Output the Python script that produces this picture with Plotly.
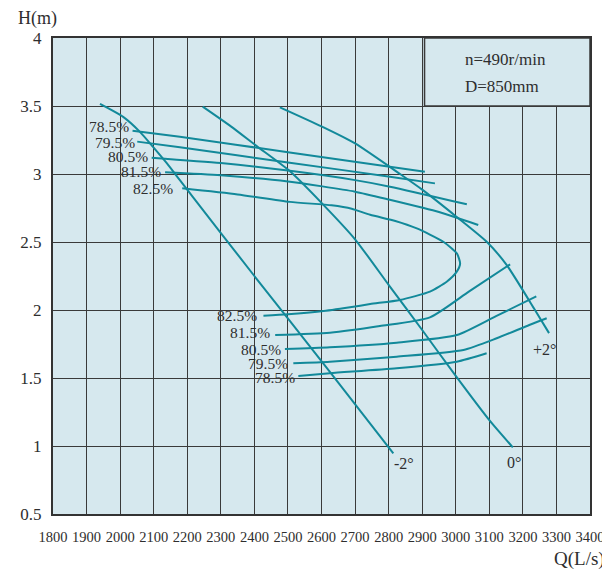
import plotly.graph_objects as go

# ---------------- data ----------------
# blade-angle head curves
Q_m2 = [1940, 2009, 2059, 2098, 2139, 2178, 2217, 2400, 2625, 2814]
H_m2 = [3.515, 3.42, 3.31, 3.20, 3.08, 2.955, 2.83, 2.25, 1.545, 0.945]

Q_0 = [2246, 2330, 2407, 2506, 2605, 2700, 2800, 2900, 3000, 3100, 3170]
H_0 = [3.495, 3.35, 3.205, 3.02, 2.775, 2.52, 2.185, 1.853, 1.515, 1.19, 0.99]

Q_p2 = [2476, 2600, 2700, 2834, 2900, 3000, 3093, 3152, 3236, 3278]
H_p2 = [3.49, 3.35, 3.225, 3.0, 2.885, 2.69, 2.5, 2.33, 2.0, 1.83]

# efficiency iso-lines, upper branches
Q_785u = [2037, 2178, 2500, 2908]
H_785u = [3.318, 3.274, 3.16, 3.017]
Q_795u = [2051, 2178, 2500, 2804, 2938]
H_795u = [3.238, 3.196, 3.085, 2.98, 2.931]
Q_805u = [2094, 2300, 2500, 2700, 2804, 3033]
H_805u = [3.12, 3.08, 3.025, 2.955, 2.907, 2.777]
Q_815u = [2134, 2300, 2500, 2700, 2804, 2950, 3067]
H_815u = [3.012, 2.99, 2.945, 2.87, 2.81, 2.72, 2.625]

# 82.5% loop
Q_825 = [2185, 2350, 2506, 2630, 2690, 2745, 2820, 2884, 2963, 3003, 3013, 3003,
         2973, 2923, 2834, 2745, 2685, 2600, 2500, 2427]
H_825 = [2.895, 2.85, 2.795, 2.77, 2.745, 2.70, 2.655, 2.60, 2.502, 2.417, 2.343, 2.282,
         2.208, 2.135, 2.074, 2.044, 2.02, 1.99, 1.968, 1.958]

# efficiency iso-lines, lower branches
Q_815l = [2462, 2625, 2774, 2923, 3040, 3162]
H_815l = [1.816, 1.833, 1.882, 1.946, 2.137, 2.336]
Q_805l = [2491, 2625, 2824, 3003, 3120, 3240]
H_805l = [1.713, 1.726, 1.76, 1.816, 1.955, 2.10]
Q_795l = [2516, 2625, 2824, 3023, 3122, 3219, 3271]
H_795l = [1.608, 1.62, 1.657, 1.706, 1.792, 1.89, 1.939]
Q_785l = [2531, 2625, 2824, 3003, 3092]
H_785l = [1.515, 1.535, 1.571, 1.62, 1.682]

# labels
eff_labels = ["78.5%", "79.5%", "80.5%", "81.5%", "82.5%"]
eff_up_Q = [2032, 2050, 2089, 2128, 2164]
eff_up_H = [3.346, 3.235, 3.132, 3.022, 2.897]
eff_lo_labels = ["82.5%", "81.5%", "80.5%", "79.5%", "78.5%"]
eff_lo_Q = [2414, 2453, 2485, 2506, 2527]
eff_lo_H = [1.963, 1.831, 1.713, 1.61, 1.507]

angle_labels = ["-2°", "0°", "+2°"]
angle_Q = [2846, 3174, 3263]
angle_H = [0.868, 0.882, 1.713]

x_ticks = list(range(1800, 3401, 100))
y_ticks = [0.5, 1, 1.5, 2, 2.5, 3, 3.5, 4]
y_tick_text = ["0.5", "1", "1.5", "2", "2.5", "3", "3.5", "4"]

info_lines = ["n=490r/min", "D=850mm"]

# ---------------- styling ----------------
TEAL = "#12899a"
BG = "#d6e8ee"
GRID = "#3a3a3a"
TXT = "#2e2e2e"
FONT = "Liberation Serif, Times New Roman, serif"

fig = go.Figure()

curves = [
    (Q_m2, H_m2), (Q_0, H_0), (Q_p2, H_p2),
    (Q_785u, H_785u), (Q_795u, H_795u), (Q_805u, H_805u), (Q_815u, H_815u),
    (Q_825, H_825),
    (Q_815l, H_815l), (Q_805l, H_805l), (Q_795l, H_795l), (Q_785l, H_785l),
]
for q, h in curves:
    fig.add_trace(go.Scatter(x=q, y=h, mode="lines",
                             line=dict(color=TEAL, width=2, shape="spline", smoothing=0.6),
                             hoverinfo="skip", showlegend=False))

annotations = []
for t, q, h in zip(eff_labels, eff_up_Q, eff_up_H):
    annotations.append(dict(x=q, y=h, text=t, xanchor="right", yanchor="middle",
                            showarrow=False, font=dict(family=FONT, size=15.5, color=TXT)))
for t, q, h in zip(eff_lo_labels, eff_lo_Q, eff_lo_H):
    annotations.append(dict(x=q, y=h, text=t, xanchor="right", yanchor="middle",
                            showarrow=False, font=dict(family=FONT, size=15.5, color=TXT)))
for t, q, h in zip(angle_labels, angle_Q, angle_H):
    annotations.append(dict(x=q, y=h, text=t, xanchor="center", yanchor="middle",
                            showarrow=False, font=dict(family=FONT, size=16, color=TXT)))

annotations.append(dict(x=3023, y=3.843, text=info_lines[0], xanchor="left", yanchor="middle",
                        showarrow=False, font=dict(family=FONT, size=17, color=TXT)))
annotations.append(dict(x=3023, y=3.642, text=info_lines[1], xanchor="left", yanchor="middle",
                        showarrow=False, font=dict(family=FONT, size=17, color=TXT)))

annotations.append(dict(xref="paper", yref="paper", x=-0.028, y=1.042, text="H(m)",
                        xanchor="center", yanchor="middle", showarrow=False,
                        font=dict(family=FONT, size=18, color=TXT)))
annotations.append(dict(xref="paper", yref="paper", x=1.031, y=-0.094, text="Q(L/s)",
                        xanchor="right", yanchor="middle", showarrow=False,
                        font=dict(family=FONT, size=19, color=TXT)))

# page body adds an 8px offset; figure sized so the plot lands where the reference has it
fig.update_layout(
    width=602, height=566,
    margin=dict(l=45, r=20, t=30, b=60, autoexpand=False),
    paper_bgcolor="white",
    plot_bgcolor=BG,
    annotations=annotations,
    shapes=[
        dict(type="rect", xref="x", yref="y", x0=2907, x1=3400, y0=3.5, y1=4,
             fillcolor=BG, line=dict(color=GRID, width=1.5), layer="above"),
    ],
    xaxis=dict(range=[1800, 3400], tickvals=x_ticks, ticktext=[str(v) for v in x_ticks],
               showgrid=True, gridcolor=GRID, gridwidth=1.2, zeroline=False,
               showline=True, linecolor="#333", linewidth=2, mirror=True,
               ticks="", ticklabelstandoff=9, automargin=False,
               tickfont=dict(family=FONT, size=14.5, color=TXT)),
    yaxis=dict(range=[0.5, 4], tickvals=y_ticks, ticktext=y_tick_text,
               showgrid=True, gridcolor=GRID, gridwidth=1.2, zeroline=False,
               showline=True, linecolor="#333", linewidth=2, mirror=True,
               ticks="", ticklabelstandoff=6, automargin=False,
               tickfont=dict(family=FONT, size=17, color=TXT)),
)

fig.write_html("out.html")
